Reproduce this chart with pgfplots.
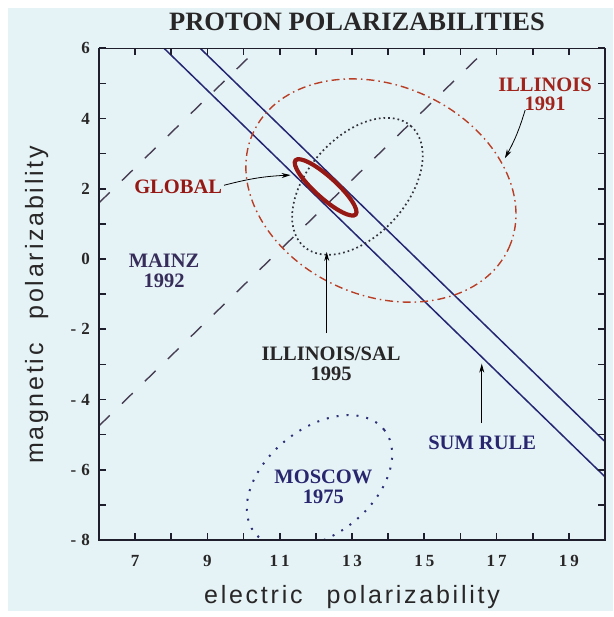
\documentclass[border=0pt]{standalone}
\usepackage{fontspec}
\setmainfont{Liberation Serif}
\newfontfamily\labelsans[LetterSpace=11]{Liberation Sans}
\usepackage{pgfplots}
\pgfplotsset{compat=1.18}
\usetikzlibrary{arrows.meta}

\definecolor{paper}{RGB}{229,243,246}
\definecolor{framec}{RGB}{30,30,45}
\definecolor{ticktext}{RGB}{40,38,38}
\definecolor{sumblue}{RGB}{38,38,115}
\definecolor{mainzc}{RGB}{72,62,84}
\definecolor{ill91}{RGB}{185,62,38}
\definecolor{ill95}{RGB}{50,50,60}
\definecolor{globalred}{RGB}{150,24,20}
\definecolor{moscowc}{RGB}{48,48,120}
\definecolor{labred}{RGB}{160,35,28}
\definecolor{labnavy}{RGB}{40,38,110}
\definecolor{labpurple}{RGB}{55,45,90}

\begin{document}
\begin{tikzpicture}
% page and tinted panel
\fill[white] (0pt,0pt) rectangle (613pt,617pt);
\fill[paper] (8pt,6pt) rectangle (613pt,609pt);

% title and axis titles
\node[font=\bfseries\fontsize{26.5}{26.5}\selectfont, text=ticktext, anchor=base]
  at (357pt,586pt) {PROTON POLARIZABILITIES};
\node[font=\labelsans\fontsize{25}{25}\selectfont, text=ticktext, anchor=base]
  at (352pt,13pt) {electric\hspace{24pt}polarizability};
\node[font=\labelsans\fontsize{25}{25}\selectfont, text=ticktext, anchor=base, rotate=90]
  at (43pt,312pt) {magnetic\hspace{24pt}polarizability};

\begin{axis}[
  at={(99pt,77pt)}, anchor=south west,
  scale only axis, width=506pt, height=491.7pt,
  xmin=6, xmax=20, ymin=-8, ymax=6,
  axis on top,
  axis line style={framec, line width=1.4pt},
  every tick/.style={framec, line width=1.6pt},
  every minor tick/.style={framec, line width=1.6pt},
  major tick length=7pt, minor tick length=7pt,
  xtick={7,9,...,19},
  xticklabels={7,9,1\hspace{3pt}1,1\hspace{3pt}3,1\hspace{3pt}5,1\hspace{3pt}7,1\hspace{3pt}9},
  minor xtick={6,8,...,20},
  ytick={-8,-6,...,6},
  yticklabels={-\hspace{5pt}8,-\hspace{5pt}6,-\hspace{5pt}4,-\hspace{5pt}2,0,2,4,6},
  minor ytick={-7,-5,...,5},
  tick label style={font=\bfseries\fontsize{17}{17}\selectfont, text=ticktext},
  xticklabel style={anchor=center, yshift=-21pt},
  yticklabel style={anchor=east, inner sep=0pt, xshift=-9pt},
]

% sum rule band: alpha + beta = 13.8 and 14.8
\addplot[sumblue, line width=1.5pt] coordinates {(6,7.8) (20,-6.2)};
\addplot[sumblue, line width=1.5pt] coordinates {(6,8.8) (20,-5.2)};

% Mainz 1992 band: alpha - beta = 4.4 and 10.75
\addplot[mainzc, line width=1.4pt, dash pattern=on 15pt off 17pt] coordinates {(6,1.6) (10.4,6)};
\addplot[mainzc, line width=1.4pt, dash pattern=on 15pt off 17pt] coordinates {(6,-4.75) (16.75,6)};

% Illinois 1991 contour
\draw[ill91, line width=1.4pt, dash pattern=on 8pt off 4pt on 1.5pt off 4pt,
      rotate around={-24:(axis cs:13.8,1.95)}]
  (axis cs:13.8,1.95) ellipse [x radius=3.88, y radius=2.99];

% Illinois/SAL 1995 contour
\draw[ill95, line width=1.7pt, dash pattern=on 1.7pt off 3pt,
      rotate around={48:(axis cs:13.15,2.07)}]
  (axis cs:13.15,2.07) ellipse [x radius=2.23, y radius=1.41];

% Moscow 1975 contour
\draw[moscowc, line width=2pt, dash pattern=on 2pt off 8pt,
      rotate around={38.5:(axis cs:12.1,-6.33)}]
  (axis cs:12.1,-6.33) ellipse [x radius=2.29, y radius=1.51];

% global fit
\draw[globalred, line width=4.2pt,
      rotate around={-42:(axis cs:12.27,2.04)}]
  (axis cs:12.27,2.04) ellipse [x radius=1.12, y radius=0.30];

% pointers
\draw[black, line width=0.8pt, -{Stealth[length=9pt,width=5pt]}]
  (axis cs:9.46,2.1) to[bend left=6] (axis cs:11.3,2.39);
\draw[black, line width=0.8pt, -{Stealth[length=9pt,width=5pt]}]
  (axis cs:17.79,4.24) to[bend left=6] (axis cs:17.23,2.87);
\draw[black, line width=0.8pt, -{Stealth[length=9pt,width=5pt]}]
  (axis cs:12.30,-2.11) -- (axis cs:12.30,0.20);
\draw[black, line width=0.8pt, -{Stealth[length=9pt,width=5pt]}]
  (axis cs:16.59,-4.67) -- (axis cs:16.59,-2.98);

% labels
\node[font=\bfseries\fontsize{20.5}{19.5}\selectfont, text=labred, align=center]
  at (axis cs:18.34,4.69) {ILLINOIS\\1991};
\node[font=\bfseries\fontsize{20.5}{19.5}\selectfont, text=globalred]
  at (axis cs:8.19,2.05) {GLOBAL};
\node[font=\bfseries\fontsize{20.5}{19.5}\selectfont, text=labpurple, align=center]
  at (axis cs:7.80,-0.33) {MAINZ\\1992};
\node[font=\bfseries\fontsize{20.5}{19.5}\selectfont, text=ticktext, align=center]
  at (axis cs:12.42,-2.99) {ILLINOIS/SAL\\1995};
\node[font=\bfseries\fontsize{20.5}{19.5}\selectfont, text=labnavy]
  at (axis cs:16.60,-5.23) {SUM RULE};
\node[font=\bfseries\fontsize{20.5}{19.5}\selectfont, text=labnavy, align=center]
  at (axis cs:12.21,-6.49) {MOSCOW\\1975};
\end{axis}
\end{tikzpicture}
\end{document}
